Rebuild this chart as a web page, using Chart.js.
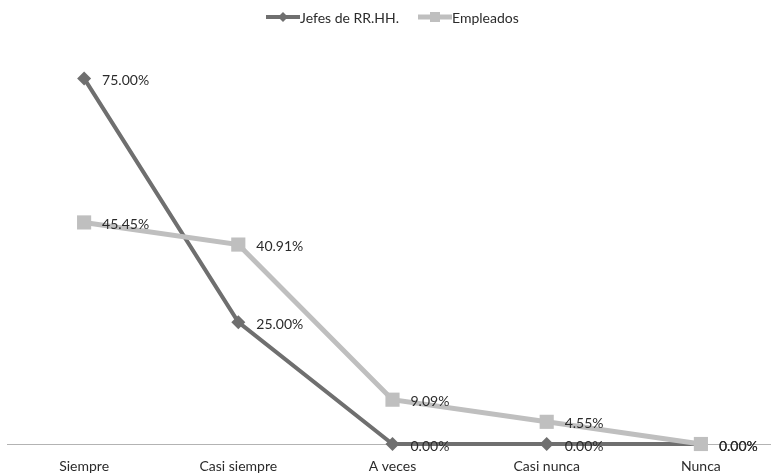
<!DOCTYPE html>
<html>
<head>
<meta charset="utf-8">
<script src="https://cdn.jsdelivr.net/npm/chart.js@4"></script>
<style>
  html, body { margin: 0; padding: 0; background: #fff; overflow: hidden; }
  #wrap { width: 771px; height: 474px; overflow: hidden; position: relative; }
  canvas { display: block; position: absolute; left: -3px; top: 0; }
</style>
</head>
<body>
<div id="wrap"><canvas id="c" width="791" height="474"></canvas></div>
<script>
// Frecuencia de respuesta por categoría (%)
const categories = ['Siempre', 'Casi siempre', 'A veces', 'Casi nunca', 'Nunca'];
const jefes = [75.00, 25.00, 0.00, 0.00, 0.00];
const empleados = [45.45, 40.91, 9.09, 4.55, 0.00];
const seriesNames = ['Jefes de RR.HH.', 'Empleados'];

const DARK = '#6f6f6f';
const LIGHT = '#bfbfbf';
const FONT = 'Lato, "Open Sans", sans-serif';

// Percentage labels to the right of each point
const valueLabels = {
  id: 'valueLabels',
  afterDatasetsDraw(chart) {
    const ctx = chart.ctx;
    ctx.save();
    ctx.font = '14px ' + FONT;
    ctx.fillStyle = '#2b2b2b';
    ctx.textBaseline = 'middle';
    ctx.textAlign = 'left';
    chart.data.datasets.forEach((ds, i) => {
      const meta = chart.getDatasetMeta(i);
      meta.data.forEach((pt, j) => {
        ctx.fillText(ds.data[j].toFixed(2) + '%', pt.x + 18, pt.y + 2);
      });
    });
    ctx.restore();
  }
};

// Legend: line sample with marker, followed by the series name
const lineLegend = {
  id: 'lineLegend',
  afterDraw(chart) {
    const ctx = chart.ctx;
    const y = 17;
    const shift = 3; // canvas sits 3px left of the page edge
    const items = [
      { x: 266 + shift, color: DARK, width: 4, marker: 'diamond', text: seriesNames[0] },
      { x: 418 + shift, color: LIGHT, width: 5, marker: 'square', text: seriesNames[1] }
    ];
    ctx.save();
    items.forEach(it => {
      ctx.strokeStyle = it.color;
      ctx.lineWidth = it.width;
      ctx.beginPath();
      ctx.moveTo(it.x, y);
      ctx.lineTo(it.x + 34, y);
      ctx.stroke();
      ctx.fillStyle = it.color;
      const cx = it.x + 17;
      ctx.beginPath();
      if (it.marker === 'diamond') {
        ctx.moveTo(cx, y - 5); ctx.lineTo(cx + 5, y); ctx.lineTo(cx, y + 5); ctx.lineTo(cx - 5, y);
      } else {
        ctx.rect(cx - 5, y - 5, 10, 10);
      }
      ctx.closePath();
      ctx.fill();
      ctx.font = '14px ' + FONT;
      ctx.fillStyle = '#2b2b2b';
      ctx.textBaseline = 'middle';
      ctx.fillText(it.text, it.x + 34, y + 1);
    });
    ctx.restore();
  }
};

new Chart(document.getElementById('c'), {
  type: 'line',
  data: {
    labels: categories,
    datasets: [
      {
        label: seriesNames[0],
        data: jefes,
        borderColor: DARK,
        backgroundColor: DARK,
        borderWidth: 4,
        pointStyle: 'rectRot',
        pointRadius: 7,
        pointBorderWidth: 0,
        tension: 0,
        clip: false,
        order: 1
      },
      {
        label: seriesNames[1],
        data: empleados,
        borderColor: LIGHT,
        backgroundColor: LIGHT,
        borderWidth: 5,
        pointStyle: 'rect',
        pointRadius: 10,
        pointBorderWidth: 0,
        tension: 0,
        clip: false,
        order: 0
      }
    ]
  },
  options: {
    responsive: false,
    animation: false,
    devicePixelRatio: 1,
    layout: { padding: { top: 54, left: 0, right: 0, bottom: 0 } },
    plugins: {
      legend: { display: false },
      tooltip: { enabled: false }
    },
    scales: {
      x: {
        offset: true,
        grid: { display: false, drawTicks: false },
        border: { display: true, color: '#b3b3b3', width: 1 },
        ticks: { color: '#2b2b2b', font: { family: FONT, size: 14 }, padding: 14 },
        afterFit(scale) { scale.height = 30; }
      },
      y: {
        display: false,
        min: 0,
        max: 80
      }
    }
  },
  plugins: [valueLabels, lineLegend]
});
</script>
</body>
</html>
